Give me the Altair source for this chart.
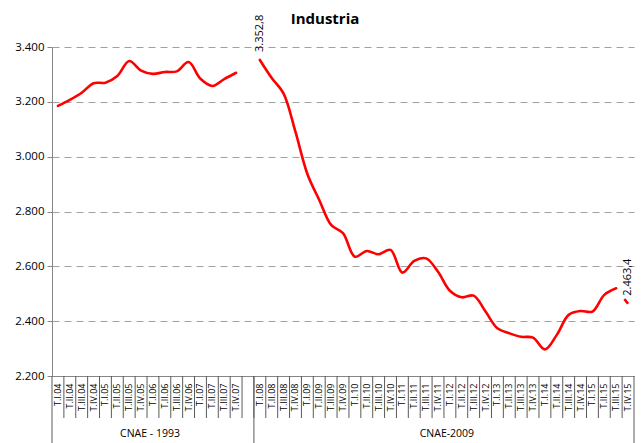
import altair as alt
import pandas as pd

cats_1993 = ["T.I.04","T.II.04","T.III.04","T.IV.04","T.I.05","T.II.05","T.III.05","T.IV.05",
             "T.I.06","T.II.06","T.III.06","T.IV.06","T.I.07","T.II.07","T.III.07","T.IV.07"]
vals_1993 = [3185, 3207, 3233, 3268, 3270, 3294, 3349, 3314,
             3302, 3309, 3311, 3345, 3284, 3258, 3283, 3306]
cats_2009 = ["T.I.08","T.II.08","T.III.08","T.IV.08","T.I.09","T.II.09","T.III.09","T.IV.09",
             "T.I.10","T.II.10","T.III.10","T.IV.10","T.I.11","T.II.11","T.III.11","T.IV.11",
             "T.I.12","T.II.12","T.III.12","T.IV.12","T.I.13","T.II.13","T.III.13","T.IV.13",
             "T.I.14","T.II.14","T.III.14","T.IV.14","T.I.15","T.II.15","T.III.15","T.IV.15"]
vals_2009 = [3352.8, 3287, 3230, 3090, 2937, 2842, 2751, 2721,
             2635, 2656, 2644, 2660, 2577, 2620, 2629, 2580,
             2511, 2487, 2493, 2435, 2374, 2356, 2343, 2340,
             2297, 2350, 2423, 2437, 2435, 2496, 2520, 2463.4]
blank = " "
all_cats = cats_1993 + [blank] + cats_2009

label_cats = ["T.I.08", "T.IV.15"]
label_vals = [3352.8, 2463.4]
label_texts = ["3.352,8", "2.463,4"]

group_names = ["CNAE - 1993", "CNAE-2009"]
group_anchor = ["T.I.06", "T.I.12"]
y_ticks = [2200, 2400, 2600, 2800, 3000, 3200, 3400]

FONT = "Open Sans"
W, H = 582, 329

main = pd.DataFrame({
    "cat": cats_1993 + cats_2009[:-1],
    "value": vals_1993 + vals_2009[:-1],
    "serie": ["1993"] * len(cats_1993) + ["2009"] * (len(cats_2009) - 1),
})
stub = pd.DataFrame({"cat": cats_2009[-2:], "value": vals_2009[-2:]})
labels = pd.DataFrame({"cat": label_cats, "value": label_vals, "text": label_texts})
ticks_df = pd.DataFrame({"cat": all_cats[1:]})
seps_start = pd.DataFrame({"cat": [cats_1993[0], cats_2009[0]]})
seps_end = pd.DataFrame({"cat": [cats_2009[-1]]})
groups = pd.DataFrame({"cat": group_anchor, "name": group_names})
title_df = pd.DataFrame({"t": ["Industria"]})

xscale = alt.Scale(type="band", domain=all_cats, paddingInner=0, paddingOuter=0)
yscale = alt.Scale(domain=[2200, 3400], nice=False, zero=False)

xaxis = alt.Axis(title=None, labelAngle=-90, labelFontSize=9, labelFont=FONT,
                 labelColor="#000000", ticks=False, domainColor="#868686",
                 labelPadding=7, grid=False, labelOverlap=False)
yaxis = alt.Axis(title=None, values=y_ticks,
                 labelExpr="replace(format(datum.value, ',.0f'), ',', '.')",
                 labelFont=FONT, labelFontSize=11.5, labelColor="#000000",
                 grid=True, gridDash=[7, 5], gridColor="#A0A0A0",
                 domainColor="#868686", tickColor="#868686", tickSize=5,
                 labelPadding=3)


def X(bp):
    return alt.X("cat:N", scale=xscale, bandPosition=bp, sort=all_cats, axis=xaxis)


def Y():
    return alt.Y("value:Q", scale=yscale, axis=yaxis)


line = alt.Chart(main).mark_line(
    color="#FF0000", strokeWidth=2.6, interpolate="catmull-rom", strokeCap="round"
).encode(x=X(0.5), y=Y(), detail="serie:N")

stub_line = alt.Chart(stub).mark_line(
    color="#FF0000", strokeWidth=2.6, strokeDash=[0, 13.5, 10], strokeCap="butt"
).encode(x=X(0.5), y=Y())

val_labels = alt.Chart(labels).mark_text(
    angle=270, align="left", baseline="middle", dx=8, fontSize=11, font=FONT, color="#000000"
).encode(x=X(0.5), y=Y(), text="text:N")

tick_rules = alt.Chart(ticks_df).mark_rule(color="#5A5A5A", strokeWidth=1).encode(
    x=X(0), y=alt.value(H), y2=alt.value(H + 42),
)

sep1 = alt.Chart(seps_start).mark_rule(color="#5A5A5A", strokeWidth=1).encode(
    x=X(0), y=alt.value(H), y2=alt.value(H + 70),
)
sep2 = alt.Chart(seps_end).mark_rule(color="#5A5A5A", strokeWidth=1).encode(
    x=X(1), y=alt.value(H), y2=alt.value(H + 70),
)

group_text = alt.Chart(groups).mark_text(
    baseline="alphabetic", align="center", fontSize=10.5, font=FONT, color="#000000"
).encode(x=X(0.25), y=alt.value(H + 61), text="name:N")

title = alt.Chart(title_df).mark_text(
    fontSize=15, fontWeight="bold", font=FONT, color="#000000", baseline="alphabetic", align="center"
).encode(x=alt.value(273), y=alt.value(-23), text="t:N")

chart = alt.layer(
    line, stub_line, val_labels, tick_rules, sep1, sep2, group_text, title
).properties(
    width=W, height=H,
    autosize=alt.AutoSizeParams(type="none"),
    padding={"left": 44, "top": 39, "right": 2, "bottom": 67},
).configure_view(stroke=None).configure_axis(domainWidth=1)

chart.save("out.html", embed_options={"renderer": "svg", "actions": False})
